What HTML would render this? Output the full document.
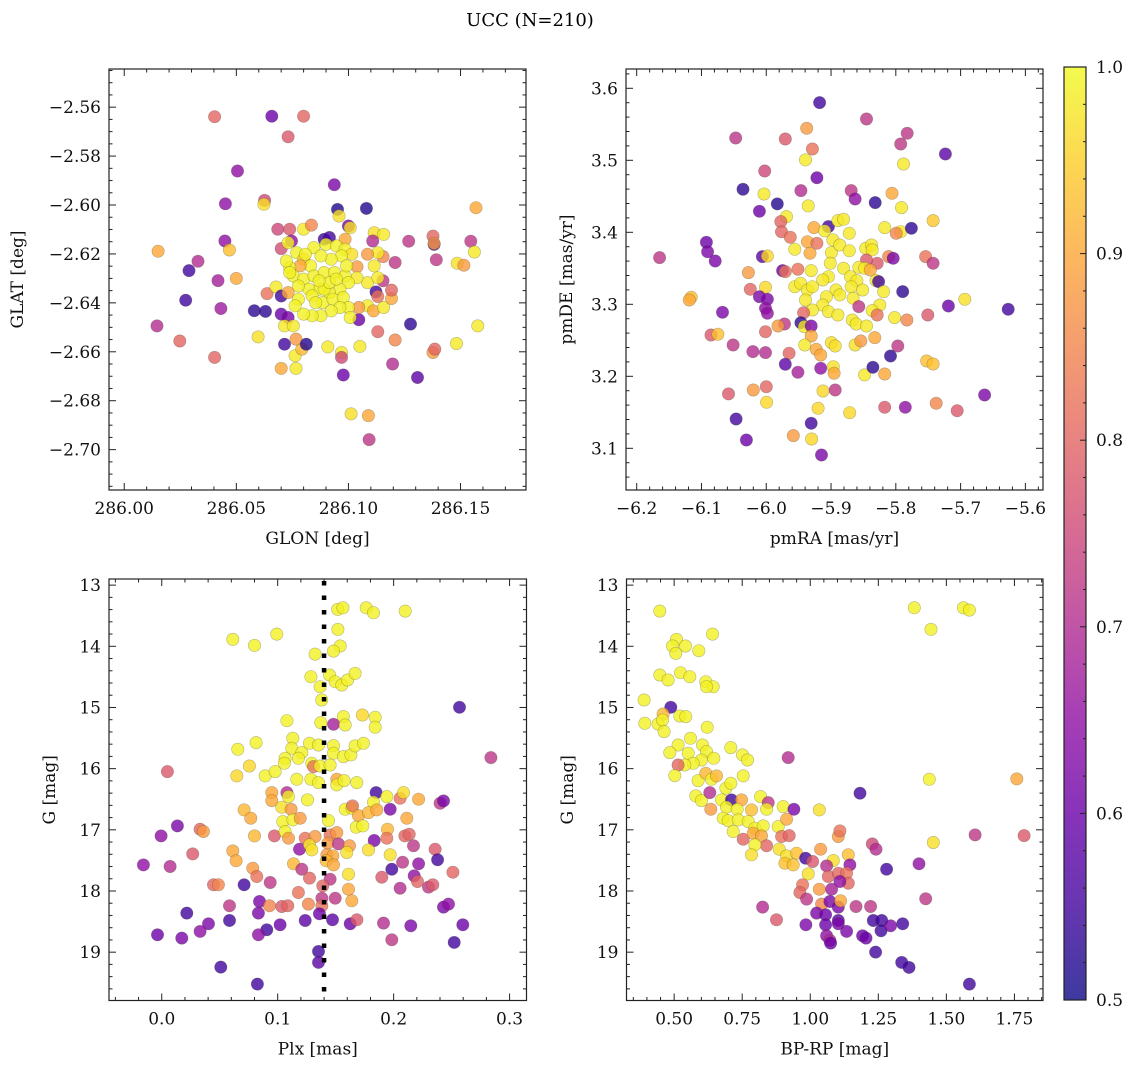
<!DOCTYPE html>
<html><head><meta charset="utf-8"><style>
html,body{margin:0;padding:0;background:#fff;}
svg{display:block;font-family:"DejaVu Serif","Liberation Serif",serif;}
</style></head><body>
<svg id="fig" width="1136" height="1067" viewBox="0 0 1136 1067" xmlns="http://www.w3.org/2000/svg">
<text x="530" y="26" font-size="18" text-anchor="middle">UCC (N=210)</text>
</svg>
<script>
// ---------- Panel 1: GLON / GLAT ----------
const p1X=[286.0403,286.0658,286.080,286.0731,286.0505,286.0937,286.0451,286.0626,286.0623,286.0951,286.0958,286.108,286.1569,286.0151,286.0449,286.0469,286.0329,286.0289,286.0418,286.05,286.0274,286.0431,286.0146,286.0248,286.0403,286.058,286.063,286.0637,286.0597,286.0677,286.07,286.07,286.0731,286.0715,286.07,286.0766,286.0762,286.0792,286.0766,286.0812,286.0715,286.0754,286.0685,286.0738,286.07,286.0746,286.08,286.0835,286.0892,286.0915,286.10,286.1008,286.0985,286.1115,286.1157,286.1108,286.1269,286.1377,286.1382,286.1382,286.1392,286.1546,286.1562,286.1485,286.1515,286.1577,286.1482,286.1377,286.1385,286.1277,286.1308,286.1197,286.1208,286.1131,286.1051,286.0969,286.0969,286.0977,286.0908,286.1012,286.1089,286.1092,286.1046,286.1085,286.1112,286.1157,286.1192,286.1192,286.1123,286.1131,286.1154,286.1085,286.1131,286.1154,286.1131,286.1208,286.1085,286.1115,286.1038,286.1038,286.1046,
286.0731,286.0769,286.08,286.0846,286.09,286.0946,286.0985,286.1015,286.0969,286.0923,286.0877,286.0831,286.0785,286.0738,286.0723,286.0754,286.08,286.0846,286.0892,286.0938,286.0985,286.1,286.0962,286.0915,286.0869,286.0823,286.0777,286.0738,286.0731,286.0777,286.0838,286.0885,286.0931,286.0977,286.1,286.0962,286.0923,286.0877,286.0838,286.08,286.0762,286.0892,286.0854,286.0992,286.0915,286.0869,286.0946,286.0808,286.1008];
const p1Y=[-2.5639,-2.5637,-2.5637,-2.5721,-2.5861,-2.5917,-2.5995,-2.5981,-2.5997,-2.6018,-2.6045,-2.6014,-2.6011,-2.6189,-2.6147,-2.6184,-2.623,-2.6268,-2.6309,-2.63,-2.6389,-2.6423,-2.6494,-2.6556,-2.6623,-2.6432,-2.6435,-2.6362,-2.6539,-2.6335,-2.6372,-2.6446,-2.646,-2.6569,-2.6668,-2.6668,-2.6616,-2.6589,-2.6548,-2.6569,-2.6494,-2.6494,-2.6099,-2.6099,-2.6178,-2.6147,-2.6099,-2.6082,-2.614,-2.6133,-2.6086,-2.6093,-2.614,-2.6113,-2.612,-2.6147,-2.6148,-2.6127,-2.6161,-2.6157,-2.6224,-2.6148,-2.6192,-2.6238,-2.6246,-2.6494,-2.6566,-2.6603,-2.6589,-2.6487,-2.6705,-2.665,-2.6552,-2.6518,-2.6578,-2.6603,-2.6623,-2.6695,-2.658,-2.6854,-2.6861,-2.6959,-2.6469,-2.6412,-2.6433,-2.6419,-2.6382,-2.6348,-2.6355,-2.6374,-2.631,-2.6317,-2.6297,-2.6211,-2.6195,-2.6235,-2.6201,-2.6249,-2.6252,-2.6297,-2.6419,
-2.6154,-2.6195,-2.6222,-2.6174,-2.6161,-2.6167,-2.6181,-2.6201,-2.6208,-2.6222,-2.6208,-2.6249,-2.6249,-2.6256,-2.6229,-2.629,-2.6303,-2.629,-2.6276,-2.6276,-2.629,-2.6317,-2.6344,-2.6358,-2.6344,-2.6344,-2.6331,-2.6276,-2.6358,-2.6385,-2.6371,-2.6399,-2.6385,-2.6378,-2.6419,-2.6419,-2.6433,-2.6453,-2.6453,-2.6446,-2.6412,-2.6344,-2.6399,-2.6249,-2.6317,-2.631,-2.6303,-2.6201,-2.646];
const p1C=[0.8,0.6,0.8,0.78,0.65,0.62,0.65,0.75,0.97,0.52,0.97,0.52,0.9,0.9,0.65,0.93,0.7,0.55,0.68,0.9,0.55,0.67,0.7,0.8,0.8,0.53,0.53,0.82,0.97,0.98,0.55,0.6,0.62,0.55,0.9,0.98,0.98,0.92,0.88,0.52,0.98,0.98,0.75,0.78,0.76,0.65,0.98,0.85,0.55,0.55,0.62,0.97,0.9,0.97,0.98,0.7,0.72,0.8,0.55,0.88,0.72,0.72,0.98,0.97,0.88,0.98,0.98,0.88,0.8,0.53,0.58,0.7,0.85,0.8,0.98,0.98,0.75,0.6,0.98,0.97,0.9,0.72,0.6,0.98,0.9,0.98,0.9,0.8,0.55,0.82,0.72,0.98,0.98,0.85,0.98,0.72,0.88,0.98,0.88,0.98,0.88,
0.99,0.99,0.95,0.99,0.99,0.99,0.99,0.97,0.99,0.99,0.99,0.99,0.9,0.99,0.99,0.99,0.99,0.99,0.99,0.99,0.99,0.99,0.99,0.99,0.99,0.99,0.99,0.99,0.9,0.99,0.99,0.99,0.99,0.99,0.99,0.99,0.99,0.99,0.99,0.99,0.99,0.99,0.99,0.99,0.99,0.99,0.99,0.99,0.99];

// ---------- Panel 2: pmRA / pmDE ----------
const p2X=[-5.9176,-5.8453,-6.0471,-5.9706,-5.9376,-5.9288,-5.9394,-5.7924,-5.7824,-5.7235,-5.7882,-6.0024,-5.9218,-6.0359,-5.9465,-5.8688,-5.8629,-6.0035,-5.9829,-5.8318,-5.8059,-5.7912,-6.0106,-5.9353,-5.9688,-5.9776,-5.9765,-5.9629,-5.9265,-5.9041,-5.91,-5.8894,-5.8806,-5.8718,-5.8171,-5.7924,-5.7994,-5.7759,-5.7424,-6.0924,-6.0906,-6.0788,-6.1647,-6.0059,-5.9982,-5.9559,-5.9365,-5.9218,-5.9324,-5.8971,-5.8994,-5.8865,-5.8718,-5.8465,-5.8376,-5.8365,-5.8288,-5.8453,-5.8112,-5.8041,-5.7541,-5.7424,-6.0276,-5.9747,-5.9706,-5.9512,-5.9306,-5.9012,-5.8806,-5.8571,-5.8482,-5.8394,-5.9041,-5.9129,-5.87,-5.86,-5.8306,-5.8265,-5.9559,-5.9471,-5.9365,-5.9288,-5.8924,-5.8688,-5.8512,-5.8188,-5.7894,-6.0247,-6.0012,-6.0106,-5.9982,-6.1159,-6.1188,-5.9394,-5.9071,-5.8865,-5.8659,-5.9129,-5.9288,-5.8571,-5.8247,-5.7188,-5.6935,-5.6265,-6.0676,-6.0012,-5.9982,-5.9424,-5.9041,-5.8894,-5.8365,-5.8288,-5.8018,-5.7829,-5.7506,-5.8671,-5.8612,-5.8453,-5.9465,-5.9412,-5.9306,-5.9718,-5.9818,-6.0012,-6.0853,-6.0747,-5.9306,-5.8324,-6.0512,-6.0206,-6.0012,-5.9647,-5.9406,-5.9229,-5.9159,-5.8994,-5.8935,-5.8629,-5.8541,-5.797,-5.8082,-5.7524,-5.7424,-5.9706,-5.9512,-5.9159,-5.8965,-5.8953,-5.8482,-5.8353,-5.8171,-6.0582,-6.02,-6.0,-5.9994,-5.9124,-5.8935,-5.92,-5.8712,-5.8171,-5.7853,-5.7376,-5.7053,-5.6629,-6.0465,-6.0306,-5.9306,-5.9582,-5.93,-5.9147];
const p2Y=[3.5801,3.5574,3.531,3.5296,3.5444,3.5157,3.5005,3.5227,3.5375,3.5088,3.4949,3.4852,3.4759,3.4597,3.4579,3.4579,3.4463,3.4532,3.4394,3.4412,3.4542,3.4343,3.4292,3.4366,3.4218,3.4148,3.4009,3.3931,3.4065,3.4079,3.4019,3.4162,3.418,3.3986,3.4065,3.4009,3.3986,3.4056,3.4162,3.3861,3.3731,3.3602,3.3648,3.3662,3.3671,3.3764,3.387,3.3847,3.3708,3.3894,3.3718,3.3824,3.3745,3.3778,3.3824,3.3755,3.3569,3.3616,3.3662,3.3639,3.3662,3.3569,3.344,3.3468,3.3454,3.3486,3.3468,3.3569,3.35,3.3514,3.35,3.3477,3.3384,3.3338,3.3384,3.3329,3.3329,3.3315,3.3245,3.3292,3.3199,3.3245,3.3199,3.3245,3.3199,3.3176,3.3176,3.3208,3.3236,3.3106,3.3069,3.3097,3.306,3.306,3.3106,3.313,3.3083,3.2991,3.2921,3.2968,3.2991,3.2977,3.3069,3.2931,3.2889,3.2944,3.2875,3.2884,3.2898,3.2852,3.2912,3.2852,3.2815,3.2782,3.2852,3.2782,3.2727,3.2699,3.2745,3.269,3.2699,3.2727,3.2699,3.262,3.2574,3.2583,3.256,3.2537,3.2435,3.2343,3.2329,3.232,3.2435,3.2375,3.2296,3.2468,3.2421,3.2435,3.2491,3.2421,3.2282,3.2213,3.2171,3.2167,3.2056,3.2111,3.2134,3.2042,3.2019,3.2125,3.2032,3.1755,3.181,3.1856,3.1639,3.1796,3.181,3.1556,3.1495,3.1569,3.1569,3.1625,3.1523,3.1741,3.1407,3.1116,3.1347,3.1176,3.113,3.0907];
const p2C=[0.55,0.72,0.72,0.78,0.88,0.82,0.98,0.72,0.72,0.58,0.98,0.75,0.6,0.53,0.7,0.72,0.65,0.98,0.52,0.53,0.9,0.98,0.6,0.98,0.98,0.8,0.8,0.82,0.9,0.55,0.98,0.98,0.98,0.98,0.98,0.98,0.85,0.53,0.94,0.6,0.62,0.62,0.72,0.58,0.96,0.98,0.9,0.82,0.9,0.98,0.98,0.98,0.98,0.98,0.98,0.98,0.78,0.78,0.85,0.62,0.82,0.72,0.88,0.6,0.82,0.82,0.98,0.98,0.98,0.98,0.98,0.9,0.98,0.98,0.98,0.98,0.98,0.55,0.98,0.98,0.98,0.98,0.98,0.98,0.98,0.98,0.53,0.8,0.96,0.62,0.62,0.93,0.9,0.98,0.98,0.98,0.98,0.98,0.98,0.72,0.98,0.6,0.97,0.55,0.62,0.65,0.65,0.8,0.98,0.98,0.98,0.82,0.98,0.85,0.78,0.98,0.98,0.98,0.53,0.98,0.62,0.72,0.88,0.8,0.78,0.93,0.9,0.9,0.72,0.7,0.7,0.8,0.98,0.9,0.9,0.97,0.97,0.97,0.88,0.72,0.53,0.93,0.93,0.58,0.68,0.65,0.97,0.9,0.98,0.53,0.9,0.78,0.88,0.8,0.96,0.96,0.72,0.96,0.96,0.78,0.65,0.85,0.78,0.62,0.55,0.6,0.55,0.88,0.96,0.62];

// ---------- Panel 3: Plx / G ----------
const p3X=[0.1518,0.1562,0.1763,0.1826,0.21,0.1519,0.0613,0.08,0.0992,0.1539,0.1481,0.1323,0.1286,0.1447,0.1496,0.1553,0.1602,0.1668,0.1366,0.138,0.2568,0.1079,0.1372,0.1481,0.1567,0.1582,0.1731,0.1841,0.1841,0.2839,0.0656,0.0814,0.113,0.1122,0.1208,0.1274,0.1352,0.1481,0.1481,0.1567,0.1631,0.1668,0.174,0.1064,0.1058,0.1179,0.1294,0.1309,0.1366,0.1452,0.0049,0.0756,0.0647,0.0892,0.0978,0.1165,0.1286,0.1352,0.151,0.151,0.1573,0.1682,0.0949,0.1079,0.1093,0.0949,0.1257,0.1849,0.1941,0.2056,0.2085,0.2215,0.2401,0.243,0.1826,0.071,0.0768,0.1035,0.1116,0.1582,0.164,0.1645,0.1697,0.1783,0.1855,0.197,0.2114,0.1044,0.1131,0.1194,0.1438,0.1677,0.1734,0.0331,0.0359,0.0135,-0.0006,0.08,0.0972,0.1064,0.1093,0.1237,0.1323,0.1452,0.151,0.1947,0.1941,0.2097,0.2134,0.1832,0.1188,0.1274,0.1294,0.1432,0.1524,0.1619,0.1596,0.1783,0.2171,0.2358,0.0267,0.0613,0.0641,0.1424,0.1475,0.1418,0.1481,0.197,-0.0158,0.0072,0.1136,0.1208,0.1984,0.2077,0.2215,0.2379,0.0785,0.082,0.1274,0.1452,0.1611,0.1898,0.2177,0.2206,0.2511,0.0446,0.0489,0.071,0.0935,0.1389,0.1611,0.2056,0.2301,0.2338,0.1179,0.1381,0.1496,0.1639,0.0584,0.0843,0.0929,0.1035,0.1087,0.1265,0.1381,0.243,0.2473,0.0216,0.0834,0.136,0.0403,0.0331,-0.0037,0.0173,0.0584,0.0906,0.0834,0.1021,0.1237,0.1473,0.1625,0.1683,0.1913,0.1984,0.2148,0.2597,0.2522,0.1352,0.1352,0.0509,0.0825];
const p3Y=[13.397,13.37,13.37,13.452,13.425,13.724,13.887,13.985,13.8,13.996,14.078,14.127,14.497,14.47,14.579,14.633,14.551,14.443,14.66,14.878,14.998,15.216,15.248,15.275,15.15,15.286,15.123,15.161,15.324,15.82,15.684,15.575,15.504,15.667,15.738,15.586,15.613,15.624,15.749,15.803,15.776,15.629,15.586,15.831,15.912,15.831,15.912,15.967,15.956,15.94,16.048,15.956,16.119,16.119,16.048,16.174,16.174,16.228,16.174,16.266,16.196,16.228,16.391,16.391,16.457,16.522,16.511,16.391,16.457,16.484,16.391,16.5,16.566,16.527,16.549,16.674,16.81,16.631,16.664,16.664,16.647,16.609,16.767,16.718,16.674,16.664,16.81,16.865,16.838,16.81,16.849,16.958,16.936,16.99,17.028,16.936,17.099,17.099,17.099,17.028,17.137,17.137,17.11,17.083,17.045,16.99,17.137,17.099,17.072,17.175,17.317,17.246,17.328,17.219,17.23,17.262,17.371,17.328,17.262,17.317,17.393,17.344,17.507,17.409,17.426,17.507,17.573,17.409,17.573,17.6,17.556,17.643,17.643,17.529,17.556,17.49,17.627,17.763,17.79,17.807,17.725,17.774,17.752,17.845,17.692,17.899,17.899,17.899,17.861,17.916,17.97,17.954,17.937,17.899,18.024,18.117,18.117,18.16,18.242,18.171,18.242,18.253,18.242,18.215,18.242,18.264,18.215,18.362,18.362,18.373,18.536,18.661,18.716,18.77,18.482,18.634,18.716,18.553,18.482,18.471,18.536,18.471,18.525,18.798,18.569,18.553,18.841,18.988,19.168,19.244,19.522];
const p3C=[0.99,0.99,0.99,0.99,0.99,0.99,0.99,0.99,0.99,0.99,0.99,0.99,0.99,0.99,0.99,0.99,0.99,0.99,0.99,0.99,0.55,0.99,0.99,0.68,0.99,0.99,0.96,0.99,0.99,0.72,0.99,0.99,0.99,0.99,0.99,0.99,0.99,0.99,0.99,0.99,0.99,0.99,0.99,0.99,0.99,0.99,0.99,0.82,0.99,0.99,0.78,0.96,0.96,0.99,0.99,0.99,0.99,0.99,0.9,0.99,0.99,0.99,0.9,0.7,0.99,0.9,0.99,0.55,0.99,0.82,0.97,0.9,0.72,0.62,0.99,0.92,0.9,0.97,0.88,0.99,0.99,0.82,0.9,0.92,0.9,0.62,0.9,0.99,0.99,0.88,0.99,0.99,0.99,0.8,0.88,0.62,0.65,0.92,0.78,0.99,0.88,0.82,0.88,0.82,0.88,0.92,0.82,0.8,0.8,0.62,0.65,0.97,0.97,0.88,0.72,0.88,0.97,0.97,0.72,0.78,0.78,0.9,0.9,0.88,0.9,0.92,0.9,0.97,0.65,0.7,0.92,0.72,0.55,0.72,0.65,0.55,0.88,0.82,0.8,0.72,0.97,0.78,0.65,0.8,0.8,0.8,0.85,0.55,0.72,0.8,0.9,0.7,0.72,0.78,0.82,0.72,0.72,0.9,0.72,0.62,0.85,0.78,0.8,0.85,0.82,0.62,0.65,0.55,0.62,0.6,0.62,0.65,0.6,0.62,0.55,0.55,0.65,0.6,0.58,0.58,0.6,0.78,0.7,0.72,0.62,0.6,0.55,0.55,0.58,0.55,0.55];

// ---------- Panel 4: BP-RP / G ----------
const p4X=[0.4473,1.3824,1.5625,1.5846,1.4436,0.6409,0.5086,0.4939,0.5417,0.5061,0.5907,0.4473,0.4779,0.5233,0.5576,0.6164,0.6434,0.6189,0.3897,0.4877,0.4596,0.5208,0.5429,0.3922,0.4412,0.4571,0.4632,0.6213,0.5601,0.5147,0.4841,0.5515,0.6042,0.6189,0.6458,0.6005,0.5699,0.5392,0.5147,0.7083,0.7512,0.7696,0.9191,0.5025,0.5882,0.6164,0.6373,0.6556,0.7537,1.4375,1.7586,1.1826,0.5797,0.6005,0.6311,0.69,0.7083,0.674,0.7108,0.7475,0.6348,0.6924,0.7316,0.7843,0.8174,0.8456,0.8395,0.9007,0.94,1.0331,0.6801,0.6985,0.7353,0.7721,0.7966,0.8272,0.7169,0.7537,0.7904,0.8211,0.8395,0.7966,0.7843,0.8824,0.913,0.8946,0.9228,0.886,0.913,0.9069,0.9498,0.9375,0.9828,1.0086,1.038,1.1029,1.1091,1.0846,1.1397,1.1458,0.9926,1.06,1.0662,1.1029,1.1336,1.1397,1.1091,1.0784,1.0331,0.9718,0.962,0.9865,1.0417,1.0723,1.1029,1.1115,1.0233,1.0564,1.1029,1.1029,1.0564,0.984,0.8248,0.8762,1.1336,1.06,1.0723,1.0748,1.1679,1.2218,1.2316,1.2623,1.2598,1.2953,1.3395,1.1924,1.2047,1.2402,1.3358,1.3627,1.5846,1.2279,1.2414,1.2806,1.3995,1.424,1.4522,1.6054,1.7855];
const p4Y=[13.425,13.37,13.37,13.408,13.724,13.8,13.887,13.996,13.996,14.116,14.072,14.47,14.551,14.432,14.497,14.579,14.66,14.66,14.878,14.998,15.107,15.139,15.15,15.259,15.27,15.205,15.395,15.324,15.504,15.613,15.738,15.749,15.613,15.722,15.831,15.858,15.912,15.94,15.94,15.656,15.776,15.858,15.82,16.114,16.196,16.076,16.174,16.119,16.119,16.174,16.168,16.402,16.446,16.522,16.391,16.32,16.239,16.511,16.511,16.511,16.664,16.631,16.664,16.674,16.457,16.555,16.664,16.62,16.664,16.674,16.81,16.849,16.838,16.865,16.974,16.936,17.028,17.153,17.055,17.099,17.262,17.246,17.409,16.947,16.827,17.11,17.094,17.317,17.426,17.545,17.382,17.573,17.464,17.518,17.317,17.11,17.017,17.502,17.409,17.573,17.72,17.589,17.763,17.709,17.709,17.872,17.845,17.97,17.97,17.899,18.024,18.133,18.215,18.171,18.264,18.16,18.362,18.389,18.482,18.536,18.553,18.553,18.264,18.471,18.661,18.732,18.808,18.852,18.253,18.253,18.482,18.482,18.651,18.569,18.536,18.732,18.77,18.999,19.168,19.249,19.522,17.23,17.317,17.643,17.556,18.128,17.208,17.083,17.094];
const p4C=[0.99,0.99,0.99,0.99,0.99,0.99,0.99,0.99,0.99,0.99,0.99,0.99,0.99,0.99,0.99,0.99,0.99,0.99,0.99,0.55,0.92,0.99,0.99,0.99,0.99,0.99,0.99,0.99,0.99,0.99,0.99,0.99,0.99,0.99,0.99,0.99,0.99,0.99,0.8,0.99,0.99,0.99,0.7,0.99,0.99,0.92,0.99,0.92,0.99,0.99,0.9,0.55,0.99,0.99,0.7,0.99,0.99,0.99,0.55,0.9,0.88,0.99,0.99,0.93,0.99,0.72,0.99,0.99,0.62,0.97,0.99,0.99,0.99,0.99,0.99,0.99,0.99,0.8,0.9,0.9,0.8,0.99,0.97,0.99,0.9,0.82,0.8,0.97,0.97,0.93,0.93,0.93,0.55,0.78,0.88,0.88,0.82,0.97,0.93,0.65,0.97,0.7,0.8,0.8,0.82,0.8,0.65,0.68,0.88,0.82,0.8,0.72,0.85,0.62,0.62,0.9,0.62,0.6,0.58,0.62,0.6,0.62,0.7,0.78,0.62,0.65,0.7,0.6,0.72,0.72,0.55,0.55,0.55,0.62,0.55,0.6,0.6,0.55,0.55,0.55,0.55,0.75,0.7,0.55,0.65,0.72,0.97,0.72,0.78];

const plxRef=[0.14];
const cbTicks=[0.5,0.6,0.7,0.8,0.9,1.0];

const NS='http://www.w3.org/2000/svg';
const svg=document.getElementById('fig');
const FS=17;
const plasma=['#0d0887','#41049d','#6a00a8','#8f0da4','#b12a90','#cc4778','#e16462','#f2844b','#fca636','#fcce25','#f0f921'];
function hex(h){return [parseInt(h.slice(1,3),16),parseInt(h.slice(3,5),16),parseInt(h.slice(5,7),16)];}
function cmap(v){let t=(v-0.5)/0.5;t=Math.max(0,Math.min(1,t));const p=t*10,i=Math.min(9,Math.floor(p)),f=p-i;const a=hex(plasma[i]),b=hex(plasma[i+1]);return 'rgb('+a.map((x,k)=>Math.round(x+(b[k]-x)*f)).join(',')+')';}
function mk(tag,attrs,parent){const e=document.createElementNS(NS,tag);for(const k in attrs)e.setAttribute(k,attrs[k]);(parent||svg).appendChild(e);return e;}
function fmt(v,d){const s=Math.abs(v).toFixed(d);return (v<-1e-9?'\u2212':'')+s;}

function panel(name,box,xd,yd,invY,xMaj,xMin,xDec,yMaj,yMin,yDec,xs,ys,cs,xlab,ylab,ylabX){
  const [L,T,R,B]=box;
  const sx=v=>L+(v-xd[0])/(xd[1]-xd[0])*(R-L);
  const sy=v=>invY? T+(v-yd[0])/(yd[1]-yd[0])*(B-T) : B-(v-yd[0])/(yd[1]-yd[0])*(B-T);
  const g=mk('g',{});
  
  
  const clipId=name+'-clip';
  const cp=mk('clipPath',{id:clipId},g);mk('rect',{x:L,y:T,width:R-L,height:B-T},cp);
  const pts=mk('g',{'clip-path':'url(#'+clipId+')'},g);
  
  
  for(let i=0;i<xs.length;i++){
    const c=mk('circle',{cx:sx(xs[i]).toFixed(1),cy:sy(ys[i]).toFixed(1),r:6.2,fill:cmap(cs[i]),'fill-opacity':0.8,stroke:'rgba(60,60,40,0.35)','stroke-width':0.6},pts);
    
    
  }
  const tg=mk('g',{stroke:'#222','stroke-width':1},g);
  const eps=1e-9;
  for(let v=Math.ceil((xd[0])/xMin-eps)*xMin;v<=xd[1]+eps;v+=xMin){
    const maj=Math.abs(v/xMaj-Math.round(v/xMaj))<1e-4, len=maj?7:3.5, x=sx(v);
    mk('line',{x1:x,y1:B,x2:x,y2:B-len},tg);mk('line',{x1:x,y1:T,x2:x,y2:T+len},tg);
    if(maj){const t=mk('text',{x:x,y:B+24,'font-size':FS,'text-anchor':'middle',stroke:'none',fill:'#111'},g);t.textContent=fmt(v,xDec);
      }
  }
  for(let v=Math.ceil((yd[0])/yMin-eps)*yMin;v<=yd[1]+eps;v+=yMin){
    const maj=Math.abs(v/yMaj-Math.round(v/yMaj))<1e-4, len=maj?7:3.5, y=sy(v);
    mk('line',{x1:L,y1:y,x2:L+len,y2:y},tg);mk('line',{x1:R,y1:y,x2:R-len,y2:y},tg);
    if(maj){const t=mk('text',{x:L-8,y:y+6,'font-size':FS,'text-anchor':'end',stroke:'none',fill:'#111'},g);t.textContent=fmt(v,yDec);
      }
  }
  const fr=mk('rect',{x:L,y:T,width:R-L,height:B-T,fill:'none',stroke:'#222','stroke-width':1.2},g);
  
  
  const xl=mk('text',{x:(L+R)/2,y:B+54,'font-size':FS,'text-anchor':'middle',fill:'#111'},g);xl.textContent=xlab;
  
  const yl=mk('text',{x:ylabX,y:(T+B)/2,'font-size':FS,'text-anchor':'middle',fill:'#111',transform:'rotate(-90 '+ylabX+' '+((T+B)/2)+')'},g);yl.textContent=ylab;
  
  return {sx,sy,g,box};
}

panel('glon-glat',[109,69,526,490],[285.9932,286.1792],[-2.7165,-2.5444],false,0.05,0.01,2,0.02,0.005,2,p1X,p1Y,p1C,'GLON [deg]','GLAT [deg]',23);
panel('pm',[626,69,1043,490],[-6.2165,-5.5728],[3.0421,3.6268],false,0.1,0.02,1,0.1,0.02,1,p2X,p2Y,p2C,'pmRA [mas/yr]','pmDE [mas/yr]',572);
const p3=panel('plx-g',[109,579,526.5,1000.5],[-0.0455,0.3146],[12.9,19.79],true,0.1,0.02,1,1,0.2,0,p3X,p3Y,p3C,'Plx [mas]','G [mag]',55);
panel('cmd',[626.5,579,1043,1000.5],[0.325,1.855],[12.9,19.79],true,0.25,0.05,2,1,0.2,0,p4X,p4Y,p4C,'BP-RP [mag]','G [mag]',573);

plxRef.forEach(v=>{const x=p3.sx(v);const l=mk('line',{x1:x,y1:581,x2:x,y2:1000,stroke:'#000','stroke-width':4.5,'stroke-dasharray':'4.5 10'});
  });

(function(){
  const L=1064,R=1086,T=67,B=1000;
  const defs=mk('defs',{});
  const lg=mk('linearGradient',{id:'cbg',x1:0,y1:1,x2:0,y2:0},defs);
  for(let i=0;i<=20;i++){mk('stop',{offset:(i/20),'stop-color':cmap(0.5+i/40),'stop-opacity':0.8},lg);}
  const g=mk('g',{});
  
  
  mk('rect',{x:L,y:T,width:R-L,height:B-T,fill:'url(#cbg)'},g);
  const sy=v=>B-(v-0.5)/0.5*(B-T);
  for(let k=0;k<=25;k++){const v=0.5+k*0.02,maj=k%5==0,y=sy(v);
    mk('line',{x1:R,y1:y,x2:R-(maj?6:3),y2:y,stroke:'#222','stroke-width':1},g);}
  cbTicks.forEach(v=>{const t=mk('text',{x:R+10,y:sy(v)+6,'font-size':FS,fill:'#111'},g);t.textContent=v.toFixed(1);
    });
  mk('rect',{x:L,y:T,width:R-L,height:B-T,fill:'none',stroke:'#222','stroke-width':1.2},g);
})();
</script>
</body></html>
